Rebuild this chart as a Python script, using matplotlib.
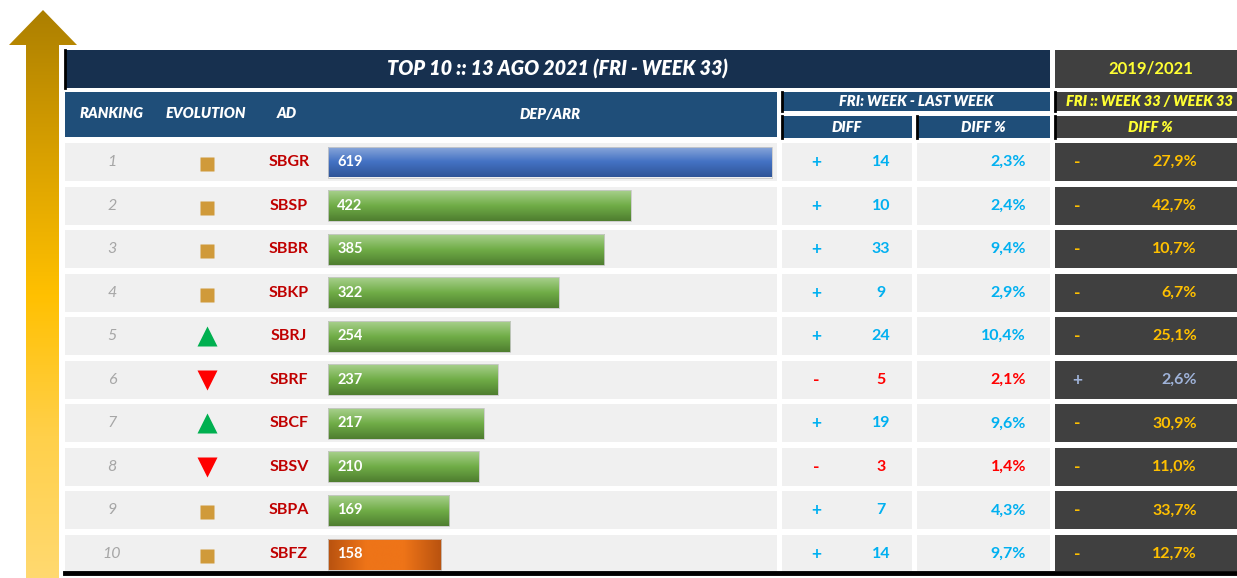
import numpy as np
import matplotlib
matplotlib.use("Agg")
import matplotlib.pyplot as plt
from matplotlib.patches import Rectangle, Polygon
from matplotlib.colors import LinearSegmentedColormap

plt.rcParams['font.family'] = ['Lato', 'DejaVu Sans']

# data
ranks = [1, 2, 3, 4, 5, 6, 7, 8, 9, 10]
evolution = ["same", "same", "same", "same", "up", "down", "up", "down", "same", "same"]
airports = ["SBGR", "SBSP", "SBBR", "SBKP", "SBRJ", "SBRF", "SBCF", "SBSV", "SBPA", "SBFZ"]
movements = [619, 422, 385, 322, 254, 237, 217, 210, 169, 158]
week_diff = [14, 10, 33, 9, 24, -5, 19, -3, 7, 14]
week_diff_pct = [2.3, 2.4, 9.4, 2.9, 10.4, -2.1, 9.6, -1.4, 4.3, 9.7]
yoy_diff_pct = [-27.9, -42.7, -10.7, -6.7, -25.1, 2.6, -30.9, -11.0, -33.7, -12.7]

title = "TOP 10 :: 13 AGO 2021 (FRI - WEEK 33)"
col_headers = ["RANKING", "EVOLUTION", "AD", "DEP/ARR"]

W, H = 1237, 578
NAVY = "#17304f"
BLUE_HDR = "#1f4e79"
DARK = "#404040"
ROW_BG = "#f0f0f0"
YELLOW = "#ffff33"
HDR_W = "heavy"

fig = plt.figure(figsize=(W / 100, H / 100), dpi=100)
ax = fig.add_axes([0, 0, 1, 1])
ax.set_xlim(0, W)
ax.set_ylim(H, 0)
ax.axis("off")


def box(x0, y0, x1, y1, color, z=1, ec="none", lw=0):
    ax.add_patch(Rectangle((x0, y0), x1 - x0, y1 - y0, facecolor=color,
                           edgecolor=ec, linewidth=lw, zorder=z))


def grad_fill(a, patch, colors, extent, horizontal=False, z=3):
    cmap = LinearSegmentedColormap.from_list("g", colors)
    g = np.linspace(0, 1, 256)
    img = g.reshape(1, -1) if horizontal else g.reshape(-1, 1)
    im = a.imshow(img, cmap=cmap, extent=extent, aspect="auto",
                  interpolation="bilinear", zorder=z)
    im.set_clip_path(patch)


# golden arrow on the left
arrow_pts = [(43, 10), (77, 45), (59, 45), (59, 578), (26, 578), (26, 45), (9, 45)]
arrow = Polygon(arrow_pts, closed=True, facecolor="none", edgecolor="none")
ax.add_patch(arrow)
grad_fill(ax, arrow, ["#ac7f00", "#d8a000", "#ffc000", "#ffd04a", "#ffd970"],
          [9, 77, 578, 10])

# title row
box(65, 50, 1050, 88, NAVY)
ax.plot([65, 65], [50, 88], color="black", lw=2, zorder=2)
ax.text(557, 69, title, color="white", fontsize=14.2, fontweight=HDR_W,
        style="italic", ha="center", va="center")
box(1055, 50, 1237, 88, DARK)
ax.text(1151, 69, "2019/2021", color=YELLOW, fontsize=12, fontweight="bold",
        ha="center", va="center")

# header row
box(65, 92, 777, 137, BLUE_HDR)
for label, x in zip(col_headers, [112, 206, 287, 550]):
    ax.text(x, 114, label, color="white", fontsize=10.5, fontweight=HDR_W,
            style="italic", ha="center", va="center")

hdr = dict(fontsize=10.5, fontweight=HDR_W, style="italic", ha="center",
           va="center")
box(782, 92, 1050, 111, BLUE_HDR)
ax.text(916, 101.5, "FRI: WEEK - LAST WEEK", color="white", **hdr)
box(782, 116, 912, 138, BLUE_HDR)
ax.text(847, 127, "DIFF", color="white", **hdr)
box(917, 116, 1050, 138, BLUE_HDR)
ax.text(983, 127, "DIFF %", color="white", **hdr)
box(1055, 92, 1237, 111, DARK)
ax.text(1150, 101.5, "FRI :: WEEK 33 / WEEK 33", color=YELLOW, **hdr)
box(1055, 116, 1237, 138, DARK)
ax.text(1150, 127, "DIFF %", color=YELLOW, **hdr)
for x, y0, y1 in [(782, 92, 111), (782, 116, 138), (917, 116, 138),
                  (1055, 92, 111), (1055, 116, 138)]:
    ax.plot([x, x], [y0, y1], color="black", lw=2, zorder=2)

# rows
row_top = 143
row_step = 43.56
row_h = 38
centers = [row_top + row_h / 2 + i * row_step for i in range(len(ranks))]

for i, yc in enumerate(centers):
    y0 = yc - row_h / 2
    y1 = min(yc + row_h / 2, 571)
    box(65, y0, 777, y1, ROW_BG)
    box(782, y0, 912, y1, ROW_BG)
    box(917, y0, 1050, y1, ROW_BG)
    box(1055, y0, 1237, y1, DARK)

    ax.text(112, yc, str(ranks[i]), color="#a6a6a6", fontsize=11.5,
            style="italic", ha="center", va="center")
    ev = evolution[i]
    if ev == "up":
        ax.plot(207, yc, marker="^", markersize=15, color="#00b050", mec="none")
    elif ev == "down":
        ax.plot(207, yc, marker="v", markersize=15, color="#ff0000", mec="none")
    else:
        ax.plot(207, yc + 2, marker="s", markersize=10.5, color="#d09a3a", mec="none")
    ax.text(289, yc, airports[i], color="#c00000", fontsize=11.5,
            fontweight="bold", ha="center", va="center")

    d = week_diff[i]
    c = "#00b0f0" if d > 0 else "#ff0000"
    ax.text(816, yc, "+" if d > 0 else "-", color=c, fontsize=12.5,
            fontweight="bold", ha="center", va="center")
    ax.text(881, yc, str(abs(d)), color=c, fontsize=11.5, fontweight="bold",
            ha="center", va="center")
    ax.text(1026, yc, f"{abs(week_diff_pct[i]):.1f}%".replace(".", ","),
            color=c, fontsize=11.5, fontweight="bold", ha="right", va="center")

    p = yoy_diff_pct[i]
    c2 = "#9fb3d9" if p > 0 else "#ffc000"
    ax.text(1077, yc, "+" if p > 0 else "-", color=c2, fontsize=12.5,
            fontweight="bold", ha="center", va="center")
    ax.text(1197, yc, f"{abs(p):.1f}%".replace(".", ","), color=c2,
            fontsize=11.5, fontweight="bold", ha="right", va="center")

ax.plot([65, 1237], [572.5, 572.5], color="black", lw=3.5, zorder=5)

# bars in their own axes sharing the pixel rows
bx0, bx1 = 328, 777
bax = fig.add_axes([bx0 / W, 0, (bx1 - bx0) / W, 1])
bax.set_ylim(H, 0)
bax.set_xlim(0, (bx1 - bx0) / 0.717)
bax.axis("off")
bars = bax.barh(centers, movements, height=31, color="none",
                edgecolor="#c8c8c8", linewidth=0.6, zorder=4)
for i, bar in enumerate(bars):
    x0, y0 = bar.get_x(), bar.get_y()
    w, h = bar.get_width(), bar.get_height()
    ext = [x0, x0 + w, y0 + h, y0]
    if i == 0:
        grad_fill(bax, bar, ["#8eaadb", "#4472c4", "#2f5597"], ext)
    elif i == len(bars) - 1:
        grad_fill(bax, bar, ["#b8520f", "#ee7418", "#ee7418", "#b8520f"], ext,
                  horizontal=True)
    else:
        grad_fill(bax, bar, ["#a9d18e", "#70ad47", "#4e7d2f"], ext)
    bax.text(x0 + 13, y0 + h / 2, str(movements[i]), color="white",
             fontsize=10.5, fontweight="bold", ha="left", va="center", zorder=6)

fig.savefig("out.png", dpi=100)
